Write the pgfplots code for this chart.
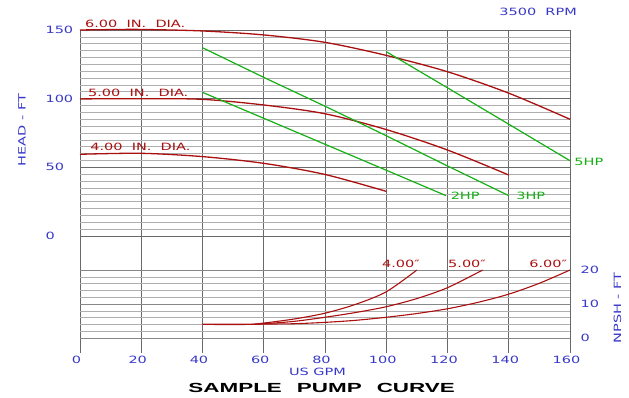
\documentclass[border=0pt]{standalone}
\usepackage{pgfplots}
\pgfplotsset{compat=1.18}
\usepackage{fontspec}
\setmainfont{DejaVu Sans}[FakeStretch=1.45]
\newfontfamily\titlefont{Liberation Sans}[FakeStretch=1.7]
\definecolor{curvered}{RGB}{170,16,16}
\definecolor{hpgreen}{RGB}{20,176,20}
\definecolor{labelblue}{RGB}{56,56,200}
\definecolor{gridminor}{RGB}{175,175,175}
\definecolor{gridmajor}{RGB}{105,105,105}
\newcommand{\lblfont}{\fontsize{10}{11}\selectfont}
\begin{document}
\begin{tikzpicture}
\path[use as bounding box] (-80pt,-45pt) rectangle (549pt,353pt);
% ---------- HEAD axis ----------
\begin{axis}[
  at={(0pt,0pt)}, anchor=south west,
  width=490pt, height=323pt, scale only axis,
  xmin=0, xmax=160, ymin=-85.2, ymax=150,
  clip=false,
  axis line style={draw=none},
  xtick={0,20,...,160},
  ytick={0,50,100,150},
  minor ytick={5,10,15,20,25,30,35,40,45,55,60,65,70,75,80,85,90,95,105,110,115,120,125,130,135,140,145},
  major tick length=0pt, minor tick length=0pt,
  xmajorgrids, ymajorgrids, yminorgrids,
  major grid style={gridmajor, line width=0.9pt},
  minor grid style={gridminor, line width=0.6pt},
  /pgf/number format/assume math mode=true,
  tick label style={labelblue, font=\lblfont},
  xticklabel style={xshift=-3.5pt},
  yticklabel style={anchor=west, xshift=-38pt},
]
\addplot[curvered, line width=1.3pt, smooth] coordinates {(0,150) (10,150.3) (20,150.4) (40,149.3) (60,146.4) (80,141) (100,131.5) (120,119.6) (140,104) (160,85)};
\addplot[curvered, line width=1.3pt, smooth] coordinates {(0,99.8) (20,100) (40,99.5) (60,95.4) (80,89) (100,77.5) (120,62.6) (140,44.4)};
\addplot[curvered, line width=1.3pt, smooth] coordinates {(0,59.5) (20,60.2) (40,57.8) (60,52.9) (80,44.8) (100,32.5)};
\addplot[hpgreen, line width=1.2pt] coordinates {(40,104.6) (60,85.7) (80,66.8) (100,47.9) (119.5,29.4)};
\addplot[hpgreen, line width=1.2pt] coordinates {(40,137.1) (60,115.5) (80,94.5) (100,73) (120,51) (140,29.4)};
\addplot[hpgreen, line width=1.2pt] coordinates {(100,134.2) (120,107.9) (140,81.4) (160,54.8)};
\node[curvered, anchor=west, inner sep=0pt, font=\lblfont] at (axis cs:1.6,154.4) {6.00\ \ IN.\ \ DIA.};
\node[curvered, anchor=west, inner sep=0pt, font=\lblfont] at (axis cs:2.6,104.3) {5.00\ \ IN.\ \ DIA.};
\node[curvered, anchor=west, inner sep=0pt, font=\lblfont] at (axis cs:3.3,64.6) {4.00\ \ IN.\ \ DIA.};
\node[hpgreen, anchor=west, inner sep=0pt, font=\lblfont] at (axis cs:121,29.4) {2HP};
\node[hpgreen, anchor=west, inner sep=0pt, font=\lblfont] at (axis cs:142.4,29.4) {3HP};
\node[hpgreen, anchor=west, inner sep=0pt, font=\lblfont] at (axis cs:161.4,54.1) {5HP};
\end{axis}
% ---------- NPSH axis ----------
\begin{axis}[
  at={(0pt,0pt)}, anchor=south west,
  width=490pt, height=323pt, scale only axis,
  xmin=0, xmax=160, ymin=-4.41, ymax=90.59,
  clip=false,
  axis line style={draw=none},
  xtick=\empty,
  ytick={0,10,20},
  minor ytick={2,4,6,8,12,14,16,18},
  major tick length=0pt, minor tick length=0pt,
  ymajorgrids, yminorgrids,
  major grid style={gridmajor!80, line width=0.9pt},
  minor grid style={gridminor, line width=0.6pt},
  yticklabel pos=right,
  /pgf/number format/assume math mode=true,
  tick label style={labelblue, font=\lblfont},
  yticklabel style={anchor=west, xshift=7pt},
]
\addplot[curvered, line width=1.1pt, smooth] coordinates {(40,4) (55,4) (60,4.4) (70,5.6) (80,7.3) (90,9.9) (100,13.6) (110,20)};
\addplot[curvered, line width=1.1pt, smooth] coordinates {(40,4) (55,4) (60,4.2) (70,4.9) (80,6.1) (90,7.5) (100,9.2) (110,11.6) (120,14.8) (131.5,20)};
\addplot[curvered, line width=1.1pt, smooth] coordinates {(40,4) (55,4) (60,4.1) (70,4.2) (80,4.6) (90,5.2) (100,6.1) (110,7.2) (120,8.6) (130,10.5) (140,12.9) (150,16.1) (160,20)};
\node[curvered, anchor=east, inner sep=0pt, font=\lblfont] at (axis cs:111,21.8) {4.00″};
\node[curvered, anchor=east, inner sep=0pt, font=\lblfont] at (axis cs:132.6,21.8) {5.00″};
\node[curvered, anchor=east, inner sep=0pt, font=\lblfont] at (axis cs:159.1,21.8) {6.00″};
\end{axis}
% ---------- titles ----------
\node[labelblue, anchor=east, inner sep=0pt, font=\lblfont] at (497pt,341pt) {3500\ \ RPM};
\node[labelblue, rotate=90, inner sep=0pt, font=\lblfont] at (-58pt,223pt) {HEAD - FT};
\node[labelblue, rotate=90, inner sep=0pt, font=\lblfont] at (537.5pt,45pt) {NPSH - FT};
\node[labelblue, inner sep=0pt, font=\lblfont] at (237.5pt,-18.7pt) {US\ GPM};
\node[black, inner sep=0pt, font=\titlefont\bfseries\fontsize{13.2}{14}\selectfont] at (241.7pt,-34.8pt) {SAMPLE\hspace{15pt}PUMP\hspace{15pt}CURVE};
\end{tikzpicture}
\end{document}
